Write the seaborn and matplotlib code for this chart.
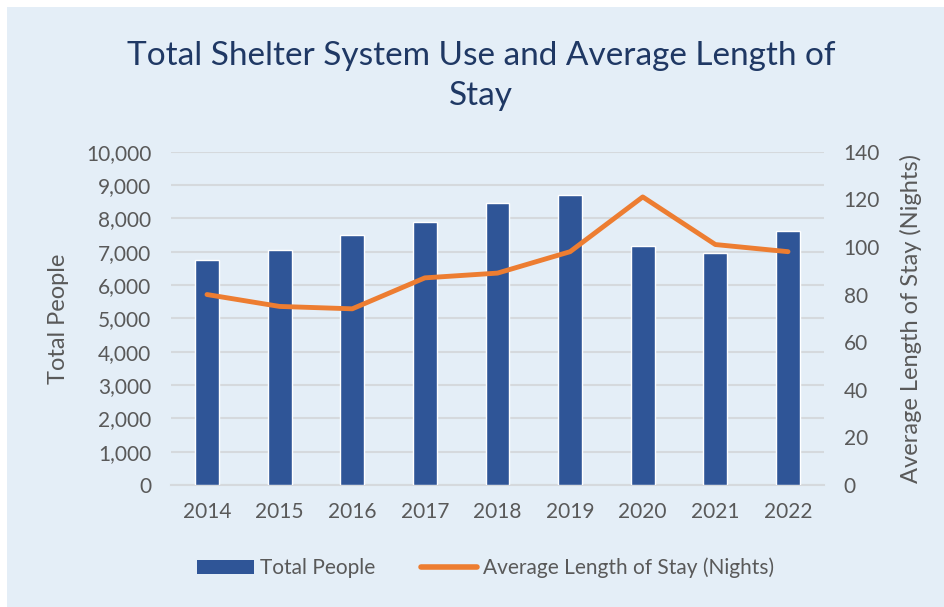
import numpy as np
import pandas as pd
import matplotlib
matplotlib.use("Agg")
import matplotlib.pyplot as plt
import seaborn as sns
from matplotlib.patches import Rectangle, Patch
from matplotlib.lines import Line2D
from matplotlib.ticker import FuncFormatter

# data
years = ["2014", "2015", "2016", "2017", "2018", "2019", "2020", "2021", "2022"]
total_people = [6750, 7050, 7500, 7880, 8450, 8710, 7180, 6960, 7620]
avg_stay = [80, 75, 74, 87, 89, 98, 121, 101, 98]

df = pd.DataFrame({"year": years, "people": total_people, "stay": avg_stay})
df["pos"] = np.arange(len(df))

sns.set_theme(style="white")
plt.rcParams["font.family"] = ["Lato", "DejaVu Sans"]

bg = "#E4EEF7"
grey = "#595959"
bar_col = "#2F5597"
line_col = "#ED7D31"

fig = plt.figure(figsize=(9.44, 6.07), dpi=100)
fig.patch.set_facecolor("white")
fig.patches.append(Rectangle((7 / 944, 0), 1, 1 - 7 / 607, transform=fig.transFigure,
                             facecolor=bg, edgecolor="none", zorder=-10))

ax = fig.add_axes([0.1808, 0.2010, 0.6924, 0.5491])
ax.set_facecolor(bg)
sns.barplot(data=df, x="year", y="people", color=bar_col, width=0.33,
            saturation=1, ax=ax, zorder=3)
ax.set_ylim(0, 10000)
ax.set_yticks(np.arange(0, 10001, 1000))
ax.yaxis.set_major_formatter(FuncFormatter(lambda v, p: f"{int(v):,}"))
ax.set_xlim(-0.5, len(years) - 0.5)
ax.grid(axis="y", color="#D5D9DD", linewidth=1.5, zorder=0)
ax.set_axisbelow(True)
for s in ["top", "left", "right"]:
    ax.spines[s].set_visible(False)
ax.spines["bottom"].set_color("#D5D9DD")
ax.spines["bottom"].set_linewidth(1.5)
ax.tick_params(axis="both", length=0, labelsize=15, labelcolor=grey, pad=14)
ax.tick_params(axis="x", pad=12)
ax.set_xlabel("")
ax.set_ylabel("Total People", fontsize=17, color=grey, labelpad=12)

ax2 = ax.twinx()
sns.lineplot(data=df, x="pos", y="stay", color=line_col, linewidth=3.5,
             ax=ax2, solid_capstyle="round", zorder=4)
ax2.set_ylim(0, 140)
ax2.set_yticks(np.arange(0, 141, 20))
for s in ["top", "left", "right", "bottom"]:
    ax2.spines[s].set_visible(False)
ax2.tick_params(axis="y", length=0, labelsize=15, labelcolor=grey, pad=14)
ax2.set_ylabel("Average Length of Stay (Nights)", fontsize=17, color=grey, labelpad=14)
ax2.set_xlabel("")

fig.text(481 / 944, 1 - 76 / 607, "Total Shelter System Use and Average Length of\nStay",
         ha="center", va="center", fontsize=24, color="#1F3864", linespacing=1.4)

handles = [Patch(facecolor=bar_col, edgecolor="none"),
           Line2D([0], [0], color=line_col, linewidth=4)]
fig.legend(handles, ["Total People", "Average Length of Stay (Nights)"],
           loc="center", bbox_to_anchor=(486 / 944, 1 - 568 / 607), ncol=2,
           frameon=False, fontsize=15, labelcolor=grey, handlelength=2.7,
           handleheight=0.7, handletextpad=0.3, columnspacing=2.2)

fig.savefig("out.png", dpi=100, facecolor=fig.get_facecolor())
